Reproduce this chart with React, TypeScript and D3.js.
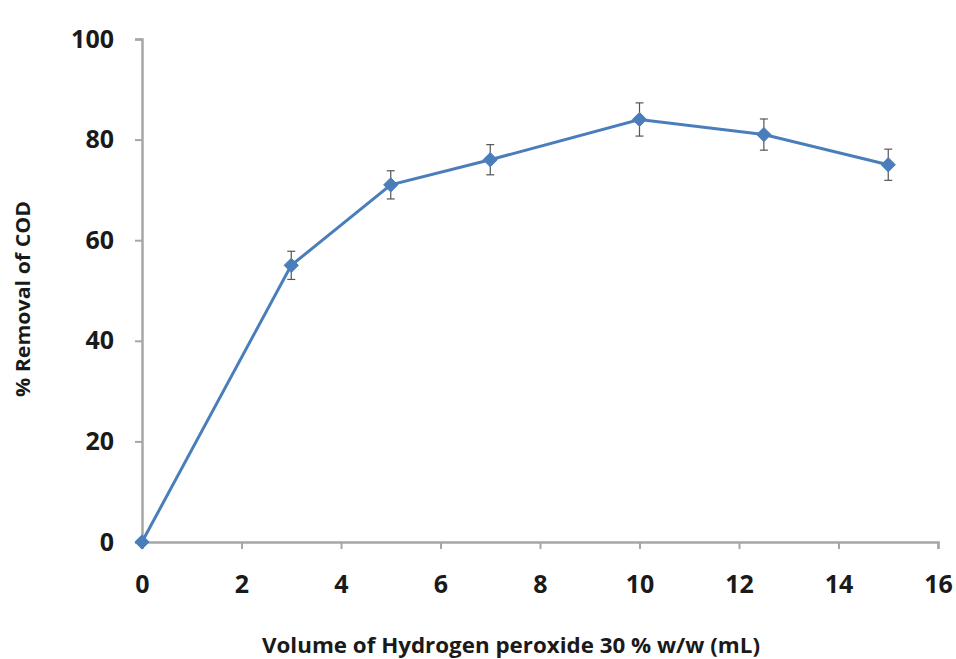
import React, { useEffect, useRef } from 'react';
import * as d3 from 'd3';

const volumes = [0, 3, 5, 7, 10, 12.5, 15];
const removal = [0, 55, 71, 76, 84, 81, 75];
const errors = [0, 2.8, 2.8, 3.0, 3.3, 3.1, 3.1];
const xTicks = [0, 2, 4, 6, 8, 10, 12, 14, 16];
const yTicks = [0, 20, 40, 60, 80, 100];

const App: React.FC = () => {
  const svgRef = useRef<SVGSVGElement>(null);
  const width = 956;
  const height = 659;

  useEffect(() => {
    if (!svgRef.current) return;
    const svg = d3.select(svgRef.current);
    svg.selectAll('*').remove();

    const margin = { top: 39, right: 18, bottom: 117, left: 142 };
    const innerWidth = width - margin.left - margin.right;
    const innerHeight = height - margin.top - margin.bottom;
    const font = '"Open Sans", "Liberation Sans", sans-serif';

    const g = svg.append('g')
      .attr('transform', `translate(${margin.left},${margin.top})`);

    const xScale = d3.scaleLinear().domain([0, 16]).range([0, innerWidth]);
    const yScale = d3.scaleLinear().domain([0, 100]).range([innerHeight, 0]);

    // X axis
    const xAxis = g.append('g')
      .attr('transform', `translate(0,${innerHeight})`)
      .call(d3.axisBottom(xScale).tickValues(xTicks).tickSize(7).tickSizeOuter(7).tickPadding(26));
    xAxis.select('.domain').attr('stroke', '#a6a6a6').attr('stroke-width', 2.5);
    xAxis.selectAll('.tick line').attr('stroke', '#a6a6a6').attr('stroke-width', 2);
    xAxis.selectAll('text')
      .attr('fill', '#1a1a1a')
      .attr('font-family', font)
      .attr('font-size', '25px')
      .attr('font-weight', 'bold');

    // Y axis
    const yAxis = g.append('g')
      .call(d3.axisLeft(yScale).tickValues(yTicks).tickSize(7).tickSizeOuter(7).tickPadding(21));
    yAxis.select('.domain').attr('stroke', '#a6a6a6').attr('stroke-width', 2.5);
    yAxis.selectAll('.tick line').attr('stroke', '#a6a6a6').attr('stroke-width', 2);
    yAxis.selectAll('text')
      .attr('fill', '#1a1a1a')
      .attr('font-family', font)
      .attr('font-size', '25px')
      .attr('font-weight', 'bold');

    // Axis titles
    svg.append('text')
      .attr('x', 262)
      .attr('y', 653)
      .attr('fill', '#1a1a1a')
      .attr('font-family', font)
      .attr('font-size', '21px')
      .attr('font-weight', 'bold')
      .attr('textLength', 498)
      .attr('lengthAdjust', 'spacingAndGlyphs')
      .text('Volume of Hydrogen peroxide 30 % w/w (mL)');

    svg.append('text')
      .attr('transform', 'translate(30,397) rotate(-90)')
      .attr('fill', '#1a1a1a')
      .attr('font-family', font)
      .attr('font-size', '20px')
      .attr('font-weight', 'bold')
      .attr('textLength', 196)
      .attr('lengthAdjust', 'spacingAndGlyphs')
      .text('% Removal of COD');

    const points = volumes.map((v, i) => ({ x: v, y: removal[i], e: errors[i] }));

    // Line
    const line = d3.line<{ x: number; y: number }>()
      .x(d => xScale(d.x))
      .y(d => yScale(d.y));

    g.append('path')
      .datum(points)
      .attr('fill', 'none')
      .attr('stroke', '#4a7ebb')
      .attr('stroke-width', 3)
      .attr('d', line);

    // Error bars
    const eb = g.append('g').selectAll('g')
      .data(points.filter(d => d.e > 0))
      .enter()
      .append('g');

    eb.append('line')
      .attr('x1', d => xScale(d.x))
      .attr('x2', d => xScale(d.x))
      .attr('y1', d => yScale(d.y + d.e))
      .attr('y2', d => yScale(d.y - d.e))
      .attr('stroke', '#555555')
      .attr('stroke-width', 1.2);

    [1, -1].forEach(sign => {
      eb.append('line')
        .attr('x1', d => xScale(d.x) - 4)
        .attr('x2', d => xScale(d.x) + 4)
        .attr('y1', d => yScale(d.y + sign * d.e))
        .attr('y2', d => yScale(d.y + sign * d.e))
        .attr('stroke', '#555555')
        .attr('stroke-width', 1.2);
    });

    // Diamond markers
    g.append('g').selectAll('path')
      .data(points)
      .enter()
      .append('path')
      .attr('transform', d => `translate(${xScale(d.x)},${yScale(d.y)})`)
      .attr('d', d3.symbol().type(d3.symbolDiamond2).size(130)())
      .attr('fill', '#4a7ebb')
      .attr('stroke', '#4a7ebb')
      .attr('stroke-width', 1);
  }, []);

  return (
    <div style={{ position: 'absolute', left: 0, top: 0, background: '#ffffff', width: width, height: height, overflow: 'hidden' }}>
      <svg ref={svgRef} width={width} height={height} style={{ display: 'block' }}></svg>
    </div>
  );
};

export default App;
